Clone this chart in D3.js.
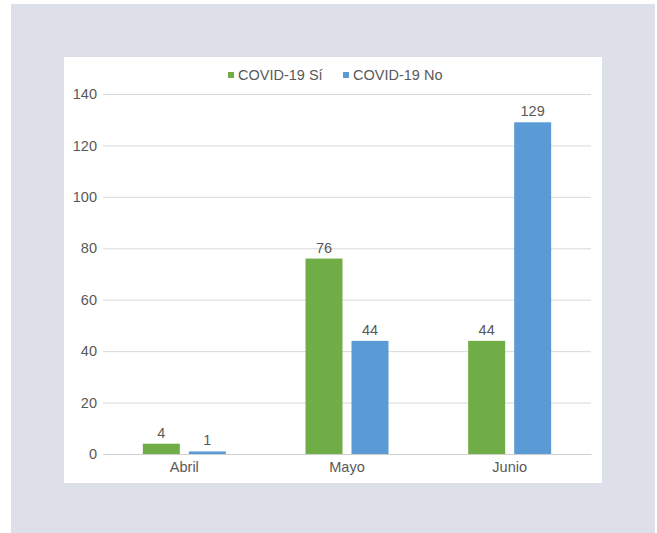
<!DOCTYPE html>
<html>
<head>
<meta charset="utf-8">
<script src="https://cdn.jsdelivr.net/npm/d3@7"></script>
<style>
  html, body { margin: 0; padding: 0; background: #ffffff; }
  svg { display: block; }
  text { font-family: "Liberation Sans", Arial, sans-serif; }
</style>
</head>
<body>
<svg id="chart" width="657" height="533"></svg>
<script>
// Monthly counts by COVID-19 status
const months = ["Abril", "Mayo", "Junio"];
const seriesNames = ["COVID-19 Sí", "COVID-19 No"];
const covidSi = [4, 76, 44];
const covidNo = [1, 44, 129];
const yTicks = [0, 20, 40, 60, 80, 100, 120, 140];
const colors = ["#70ad47", "#5b9bd5"];

const fontSize = 14.5;
const textColor = "#595959";

const svg = d3.select("#chart");

// Outer frame and white chart panel
svg.append("rect").attr("x", 11).attr("y", 4).attr("width", 644).attr("height", 529).attr("fill", "#dde0e8");
svg.append("rect").attr("x", 64).attr("y", 57).attr("width", 538).attr("height", 426).attr("fill", "#ffffff");

const plot = { left: 103, right: 591, top: 94, bottom: 454 };

const x = d3.scaleBand().domain(months).range([plot.left, plot.right]);
const y = d3.scaleLinear().domain([0, 140]).range([plot.bottom, plot.top]);

// Gridlines and y tick labels
const yAxis = d3.axisLeft(y).tickValues(yTicks).tickSize(-(plot.right - plot.left)).tickPadding(6);
const gy = svg.append("g").attr("transform", `translate(${plot.left},0)`).call(yAxis);
gy.select(".domain").remove();
gy.selectAll(".tick line").attr("stroke", "#d9d9d9").attr("stroke-width", 1);
gy.selectAll(".tick text").attr("fill", textColor).attr("font-size", fontSize).attr("x", -6);

// Category axis
const xAxis = d3.axisBottom(x).tickSize(0).tickPadding(8);
const gx = svg.append("g").attr("transform", `translate(0,${plot.bottom})`).call(xAxis);
gx.select(".domain").attr("stroke", "#d0d0d0");
gx.selectAll(".tick text").attr("fill", textColor).attr("font-size", fontSize);

// Grouped bars
const barW = 37, gap = 9;
const rows = months.map((m, i) => ({ month: m, values: [covidSi[i], covidNo[i]] }));

const groups = svg.append("g").selectAll("g").data(rows).join("g")
  .attr("transform", d => `translate(${x(d.month) + x.bandwidth() / 2 - (2 * barW + gap) / 2},0)`);

groups.selectAll("rect").data(d => d.values.map((v, k) => ({ v, k }))).join("rect")
  .attr("x", d => d.k * (barW + gap))
  .attr("y", d => y(d.v))
  .attr("width", barW)
  .attr("height", d => y(0) - y(d.v))
  .attr("fill", d => colors[d.k]);

groups.selectAll("text").data(d => d.values.map((v, k) => ({ v, k }))).join("text")
  .attr("x", d => d.k * (barW + gap) + barW / 2)
  .attr("y", d => y(d.v) - 6)
  .attr("text-anchor", "middle")
  .attr("font-size", fontSize)
  .attr("fill", textColor)
  .text(d => d.v);

// Legend
const legendX = [228, 343];
const legend = svg.append("g").selectAll("g").data(seriesNames).join("g")
  .attr("transform", (d, i) => `translate(${legendX[i]},72)`);
legend.append("rect").attr("width", 6).attr("height", 6).attr("fill", (d, i) => colors[i]);
legend.append("text").attr("x", 10).attr("y", 8).attr("font-size", fontSize).attr("fill", textColor).text(d => d);
</script>
</body>
</html>
